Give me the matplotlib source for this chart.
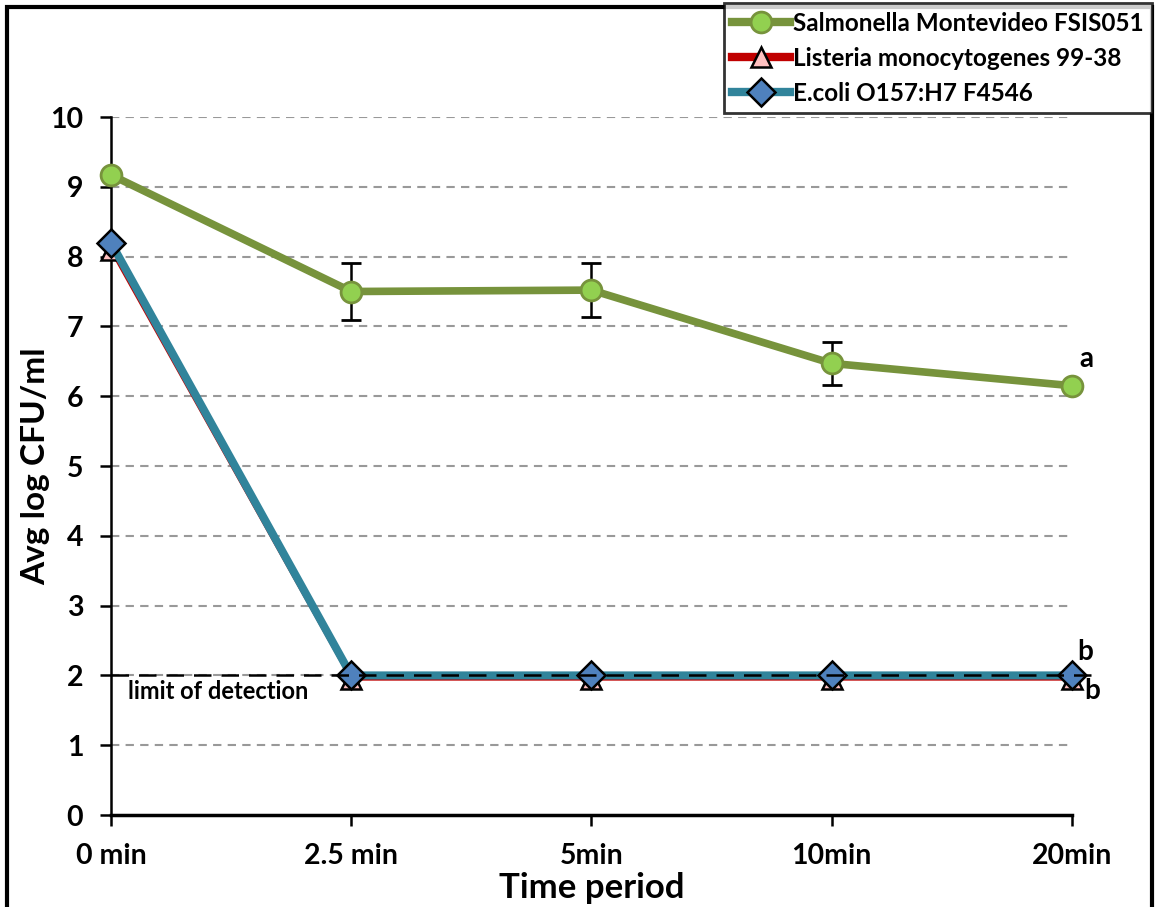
# survival of pathogens over time, avg log CFU/ml
import numpy as np
import matplotlib.pyplot as plt
from matplotlib.patches import Rectangle
from matplotlib.lines import Line2D

plt.rcParams['font.family'] = ['Lato', 'DejaVu Sans']
plt.rcParams['font.weight'] = 'bold'

times = ['0 min', '2.5 min', '5min', '10min', '20min']
salmonella = [9.17, 7.50, 7.52, 6.47, 6.15]
salmonella_err = [0.0, 0.41, 0.39, 0.31, 0.0]
listeria = [8.10, 1.95, 1.95, 1.95, 1.95]
ecoli = [8.20, 2.0, 2.0, 2.0, 2.0]
detection_limit = 2.0

x = np.arange(len(times))

fig = plt.figure(figsize=(11.55, 9.07), dpi=100)
ax = fig.add_axes([0.0961, 0.1014, 0.832, 0.7696])

# grid
for yv in range(1, 11):
    ax.axhline(yv, color='#999999', lw=1.5, ls=(0, (4, 3)), zorder=0)

sal_style = dict(color='#77933C', marker='o', ms=15, mfc='#92D050',
                 mec='#77933C', mew=2)
lis_style = dict(color='#C00000', marker='^', ms=15, mfc='#FFC0C0',
                 mec='black', mew=1.8)
eco_style = dict(color='#31849B', marker='D', ms=14, mfc='#4F81BD',
                 mec='black', mew=1.8)

ax.plot(x, listeria, lw=2.5, zorder=3, clip_on=False, **lis_style)
ax.plot(x, ecoli, lw=5.8, zorder=4, clip_on=False, **eco_style)
ax.errorbar(x, salmonella, yerr=salmonella_err, lw=5.5,
            ecolor='black', elinewidth=1.8, capsize=7, capthick=1.8,
            zorder=5, clip_on=False, **sal_style)

# detection limit
ax.plot([0, 4.09], [detection_limit, detection_limit], color='black', lw=1.8,
        ls=(0, (7, 4)), zorder=6, clip_on=False)
ax.text(0.07, detection_limit - 0.06, 'limit of detection', fontsize=17,
        ha='left', va='top')

# significance letters
ax.text(x[-1] + 0.03, salmonella[-1] + 0.2, 'a', fontsize=20, ha='left', va='bottom')
ax.text(x[-1] + 0.02, ecoli[-1] + 0.15, 'b', fontsize=20, ha='left', va='bottom')
ax.text(x[-1] + 0.05, ecoli[-1] - 0.03, 'b', fontsize=20, ha='left', va='top')

ax.set_xlim(0, 4)
ax.set_ylim(0, 10)
ax.set_xticks(x)
ax.set_xticklabels(times)
ax.set_yticks(range(0, 11))
ax.tick_params(axis='both', labelsize=20.5, length=8, width=1.8, direction='out')
ax.tick_params(axis='x', pad=12)
ax.tick_params(axis='y', pad=12)
for t in ax.get_xticklabels() + ax.get_yticklabels():
    t.set_fontweight('bold')

ax.spines['top'].set_visible(False)
ax.spines['right'].set_visible(False)
ax.spines['left'].set_linewidth(1.8)
ax.spines['bottom'].set_linewidth(2.5)

ax.set_ylabel('Avg log CFU/ml', fontsize=24, fontweight='bold')
ax.yaxis.set_label_coords(-0.063, 0.5)
ax.set_xlabel('Time period', fontsize=25, fontweight='bold')
ax.xaxis.set_label_coords(0.5, -0.081)

handles = [Line2D([], [], lw=6, **sal_style),
           Line2D([], [], lw=6, **lis_style),
           Line2D([], [], lw=6, **eco_style)]
labels = ['Salmonella Montevideo FSIS051', 'Listeria monocytogenes 99-38',
          'E.coli O157:H7 F4546']
leg = fig.legend(handles, labels, loc='upper right',
                 bbox_to_anchor=(1152 / 1155, 1 - 3 / 907),
                 fontsize=17.5, frameon=True, fancybox=False, edgecolor='black',
                 handlelength=2.4, handletextpad=0.1, borderpad=0.35,
                 labelspacing=0.5, borderaxespad=0)
leg.get_frame().set_linewidth(2)
leg.set_zorder(10)

# figure border
fig.patches.append(Rectangle((7 / 1155, -0.1), 1145 / 1155, 1.1 - 7 / 907,
                             transform=fig.transFigure, fill=False,
                             edgecolor='black', lw=3, zorder=-1))

fig.savefig('out.png', dpi=100)
